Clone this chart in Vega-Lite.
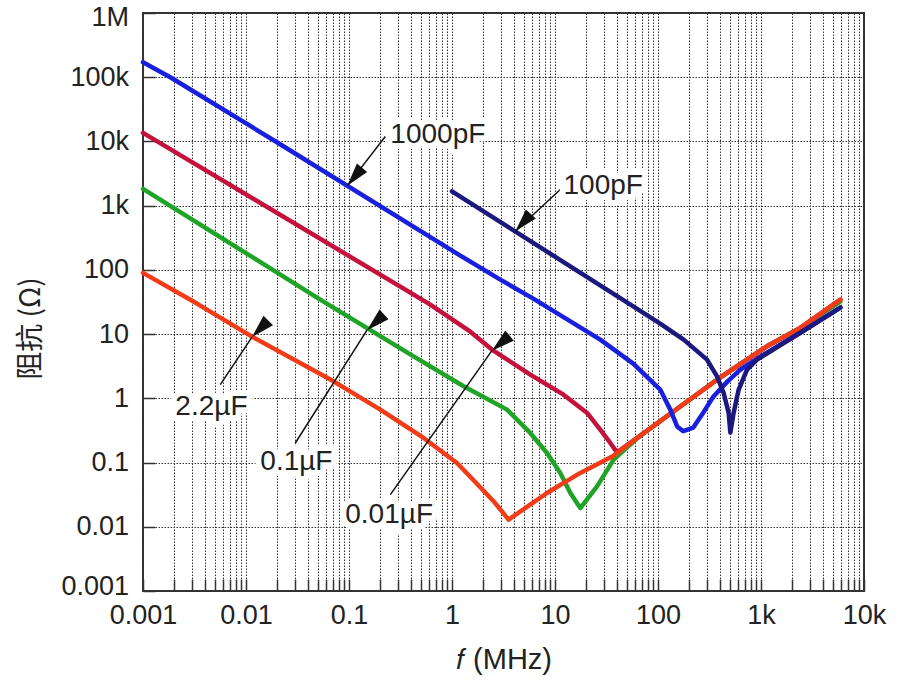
{
  "$schema": "https://vega.github.io/schema/vega-lite/v6.json",
  "width": 721,
  "height": 578,
  "autosize": {"type": "none"},
  "padding": {"left": 143, "top": 13, "right": 35, "bottom": 91},
  "background": "white",
  "config": {
    "font": "Liberation Sans",
    "view": {"stroke": "#333333", "strokeWidth": 2},
    "axis": {
      "domain": false,
      "grid": true,
      "gridColor": "#333333",
      "gridDash": [1.5, 1.5],
      "gridWidth": 1,
      "gridOpacity": 1,
      "tickColor": "#333333",
      "tickWidth": 1.5,
      "tickSize": -12,
      "labelFont": "Liberation Sans",
      "labelFontSize": 27,
      "labelColor": "#222222",
      "labelFlush": false,
      "labelOverlap": false,
      "labelBound": false,
      "titleFont": "Liberation Sans",
      "titleFontSize": 29,
      "titleFontWeight": "normal",
      "titleColor": "#222222"
    }
  },
  "datasets": {
    "curves": [
      {"cap": "0.1µF", "f": 0.001, "z": 1828},
      {"cap": "0.1µF", "f": 0.0526, "z": 34.5},
      {"cap": "0.1µF", "f": 0.4236, "z": 4.51},
      {"cap": "0.1µF", "f": 1.297, "z": 1.54},
      {"cap": "0.1µF", "f": 3.42, "z": 0.667},
      {"cap": "0.1µF", "f": 5.75, "z": 0.289},
      {"cap": "0.1µF", "f": 8.36, "z": 0.141},
      {"cap": "0.1µF", "f": 11.25, "z": 0.0689},
      {"cap": "0.1µF", "f": 14.1, "z": 0.0336},
      {"cap": "0.1µF", "f": 17.6, "z": 0.0196},
      {"cap": "0.1µF", "f": 25.6, "z": 0.0426},
      {"cap": "0.1µF", "f": 37.1, "z": 0.111},
      {"cap": "0.1µF", "f": 67.3, "z": 0.262},
      {"cap": "0.1µF", "f": 122, "z": 0.525},
      {"cap": "0.1µF", "f": 374, "z": 1.95},
      {"cap": "0.1µF", "f": 1143, "z": 6.46},
      {"cap": "0.1µF", "f": 2408, "z": 12.5},
      {"cap": "0.1µF", "f": 5890, "z": 32.1},

      {"cap": "0.01µF", "f": 0.001, "z": 13610},
      {"cap": "0.01µF", "f": 0.6, "z": 29.5},
      {"cap": "0.01µF", "f": 1.507, "z": 10.9},
      {"cap": "0.01µF", "f": 2.44, "z": 5.74},
      {"cap": "0.01µF", "f": 5.75, "z": 2.34},
      {"cap": "0.01µF", "f": 12.1, "z": 1.14},
      {"cap": "0.01µF", "f": 20.5, "z": 0.593},
      {"cap": "0.01µF", "f": 27.5, "z": 0.325},
      {"cap": "0.01µF", "f": 34.4, "z": 0.202},
      {"cap": "0.01µF", "f": 40.0, "z": 0.144},
      {"cap": "0.01µF", "f": 67.3, "z": 0.262},
      {"cap": "0.01µF", "f": 122, "z": 0.525},
      {"cap": "0.01µF", "f": 374, "z": 1.95},
      {"cap": "0.01µF", "f": 1143, "z": 6.46},
      {"cap": "0.01µF", "f": 2408, "z": 12.5},
      {"cap": "0.01µF", "f": 5890, "z": 34.4},

      {"cap": "2.2µF", "f": 0.001, "z": 89.8},
      {"cap": "2.2µF", "f": 0.00334, "z": 29.9},
      {"cap": "2.2µF", "f": 0.01143, "z": 9.14},
      {"cap": "2.2µF", "f": 0.0708, "z": 1.84},
      {"cap": "2.2µF", "f": 0.2014, "z": 0.667},
      {"cap": "2.2µF", "f": 0.53, "z": 0.2415},
      {"cap": "2.2µF", "f": 1.118, "z": 0.0986},
      {"cap": "2.2µF", "f": 1.86, "z": 0.042},
      {"cap": "2.2µF", "f": 2.61, "z": 0.0236},
      {"cap": "2.2µF", "f": 3.54, "z": 0.0129},
      {"cap": "2.2µF", "f": 8.36, "z": 0.0336},
      {"cap": "2.2µF", "f": 17.6, "z": 0.0689},
      {"cap": "2.2µF", "f": 37.1, "z": 0.128},
      {"cap": "2.2µF", "f": 67.3, "z": 0.262},
      {"cap": "2.2µF", "f": 122, "z": 0.525},
      {"cap": "2.2µF", "f": 374, "z": 1.95},
      {"cap": "2.2µF", "f": 1143, "z": 6.46},
      {"cap": "2.2µF", "f": 2408, "z": 12.5},
      {"cap": "2.2µF", "f": 5890, "z": 34.4},

      {"cap": "1000pF", "f": 0.001, "z": 171200},
      {"cap": "1000pF", "f": 0.00184, "z": 100000},
      {"cap": "1000pF", "f": 0.01925, "z": 10070},
      {"cap": "1000pF", "f": 1.204, "z": 167},
      {"cap": "1000pF", "f": 2.945, "z": 70.6},
      {"cap": "1000pF", "f": 6.15, "z": 35.7},
      {"cap": "1000pF", "f": 27.5, "z": 8.2},
      {"cap": "1000pF", "f": 57.5, "z": 3.47},
      {"cap": "1000pF", "f": 105, "z": 1.37},
      {"cap": "1000pF", "f": 131.6, "z": 0.667},
      {"cap": "1000pF", "f": 153.8, "z": 0.362},
      {"cap": "1000pF", "f": 175.9, "z": 0.308},
      {"cap": "1000pF", "f": 220, "z": 0.35},
      {"cap": "1000pF", "f": 275, "z": 0.598},
      {"cap": "1000pF", "f": 344, "z": 1.06},
      {"cap": "1000pF", "f": 471, "z": 1.82},
      {"cap": "1000pF", "f": 630, "z": 2.8},
      {"cap": "1000pF", "f": 985, "z": 4.47},
      {"cap": "1000pF", "f": 2408, "z": 10.5},
      {"cap": "1000pF", "f": 5890, "z": 25.9},

      {"cap": "100pF", "f": 1.0, "z": 1675},
      {"cap": "100pF", "f": 58.0, "z": 26.8},
      {"cap": "100pF", "f": 105, "z": 14.6},
      {"cap": "100pF", "f": 177.4, "z": 8.2},
      {"cap": "100pF", "f": 299, "z": 4.01},
      {"cap": "100pF", "f": 374, "z": 2.2},
      {"cap": "100pF", "f": 434, "z": 1.21},
      {"cap": "100pF", "f": 485, "z": 0.593},
      {"cap": "100pF", "f": 504, "z": 0.292},
      {"cap": "100pF", "f": 542, "z": 0.593},
      {"cap": "100pF", "f": 607, "z": 1.37},
      {"cap": "100pF", "f": 732, "z": 2.8},
      {"cap": "100pF", "f": 915, "z": 4.01},
      {"cap": "100pF", "f": 2408, "z": 10.5},
      {"cap": "100pF", "f": 5890, "z": 25.9}
    ],
    "labels": [
      {"label": "1000pF", "f": 0.252, "z": 12800},
      {"label": "100pF", "f": 12.1, "z": 2056},
      {"label": "2.2µF", "f": 0.00206, "z": 0.743},
      {"label": "0.1µF", "f": 0.01377, "z": 0.1014},
      {"label": "0.01µF", "f": 0.092, "z": 0.01545}
    ],
    "arrows": [
      {"label": "1000pF", "f": 0.0963, "z": 2050, "f2": 0.2251, "z2": 11920},
      {"label": "100pF", "f": 4.12, "z": 400, "f2": 11.26, "z2": 1782},
      {"label": "2.2µF", "f": 0.01143, "z": 9.0, "f2": 0.00563, "z2": 1.63},
      {"label": "0.1µF", "f": 0.1496, "z": 11.5, "f2": 0.0301, "z2": 0.2018},
      {"label": "0.01µF", "f": 2.44, "z": 5.53, "f2": 0.252, "z2": 0.0316}
    ]
  },
  "encoding": {
    "x": {
      "field": "f",
      "type": "quantitative",
      "scale": {"type": "log", "domain": [0.001, 10000], "nice": false},
      "axis": {
        "title": "𝑓 (MHz)",
        "titleFontSize": 29,
        "titleBaseline": "alphabetic",
        "titleY": 77,
        "values": [0.001,0.002,0.003,0.004,0.005,0.006,0.007,0.008,0.009,0.01,0.02,0.03,0.04,0.05,0.06,0.07,0.08,0.09,0.1,0.2,0.3,0.4,0.5,0.6,0.7,0.8,0.9,1,2,3,4,5,6,7,8,9,10,20,30,40,50,60,70,80,90,100,200,300,400,500,600,700,800,900,1000,2000,3000,4000,5000,6000,7000,8000,9000,10000],
        "labelExpr": "abs(log(datum.value)/LN10 - round(log(datum.value)/LN10)) > 0.01 ? '' : (datum.value >= 1000 ? format(datum.value/1000, '.0f') + 'k' : format(datum.value, '~g'))",
        "labelPadding": 23
      }
    },
    "y": {
      "field": "z",
      "type": "quantitative",
      "scale": {"type": "log", "domain": [0.001, 1000000], "nice": false},
      "axis": {
        "title": "阻抗 (Ω)",
        "titleFont": "Noto Sans CJK SC",
        "titleFontSize": 28,
        "titleAngle": -90,
        "titleBaseline": "middle",
        "titleAlign": "center",
        "titleX": -112,
        "titleY": 315,
        "values": [0.001,0.01,0.1,1,10,100,1000,10000,100000,1000000],
        "labelExpr": "datum.value >= 1000000 ? '1M' : (datum.value >= 1000 ? format(datum.value/1000, '.0f') + 'k' : format(datum.value, '~g'))",
        "labelPadding": 26.5,
        "labelFlush": true,
        "labelFlushOffset": 9
      }
    }
  },
  "layer": [
    {
      "data": {"name": "curves"},
      "mark": {"type": "line", "strokeWidth": 4.5, "strokeCap": "round", "strokeJoin": "round"},
      "encoding": {
        "color": {
          "field": "cap",
          "type": "nominal",
          "scale": {
            "domain": ["0.1µF", "0.01µF", "2.2µF", "1000pF", "100pF"],
            "range": ["#20a428", "#c4123c", "#f23c18", "#1820de", "#1c187e"]
          },
          "legend": null
        }
      }
    },
    {
      "data": {"name": "arrows"},
      "mark": {"type": "rule", "color": "#111111", "strokeWidth": 1.5},
      "encoding": {
        "x2": {"field": "f2"},
        "y2": {"field": "z2"}
      }
    },
    {
      "data": {"name": "arrows"},
      "mark": {"type": "point", "shape": "M0,0L0.4,1.4L-0.4,1.4Z", "filled": true, "color": "#111111", "opacity": 1, "size": 1100},
      "encoding": {
        "angle": {
          "field": "label",
          "type": "nominal",
          "scale": {
            "domain": ["1000pF", "100pF", "2.2µF", "0.1µF", "0.01µF"],
            "range": [219.4, 229.6, 34.5, 33.3, 35.2]
          },
          "legend": null
        }
      }
    },
    {
      "data": {"name": "labels"},
      "mark": {"type": "text", "align": "left", "baseline": "middle", "fontSize": 28, "font": "Liberation Sans", "fill": "white", "stroke": "white", "strokeWidth": 12, "strokeJoin": "round"},
      "encoding": {"text": {"field": "label"}}
    },
    {
      "data": {"name": "labels"},
      "mark": {"type": "text", "align": "left", "baseline": "middle", "fontSize": 28, "font": "Liberation Sans", "color": "#222222"},
      "encoding": {"text": {"field": "label"}}
    }
  ]
}
